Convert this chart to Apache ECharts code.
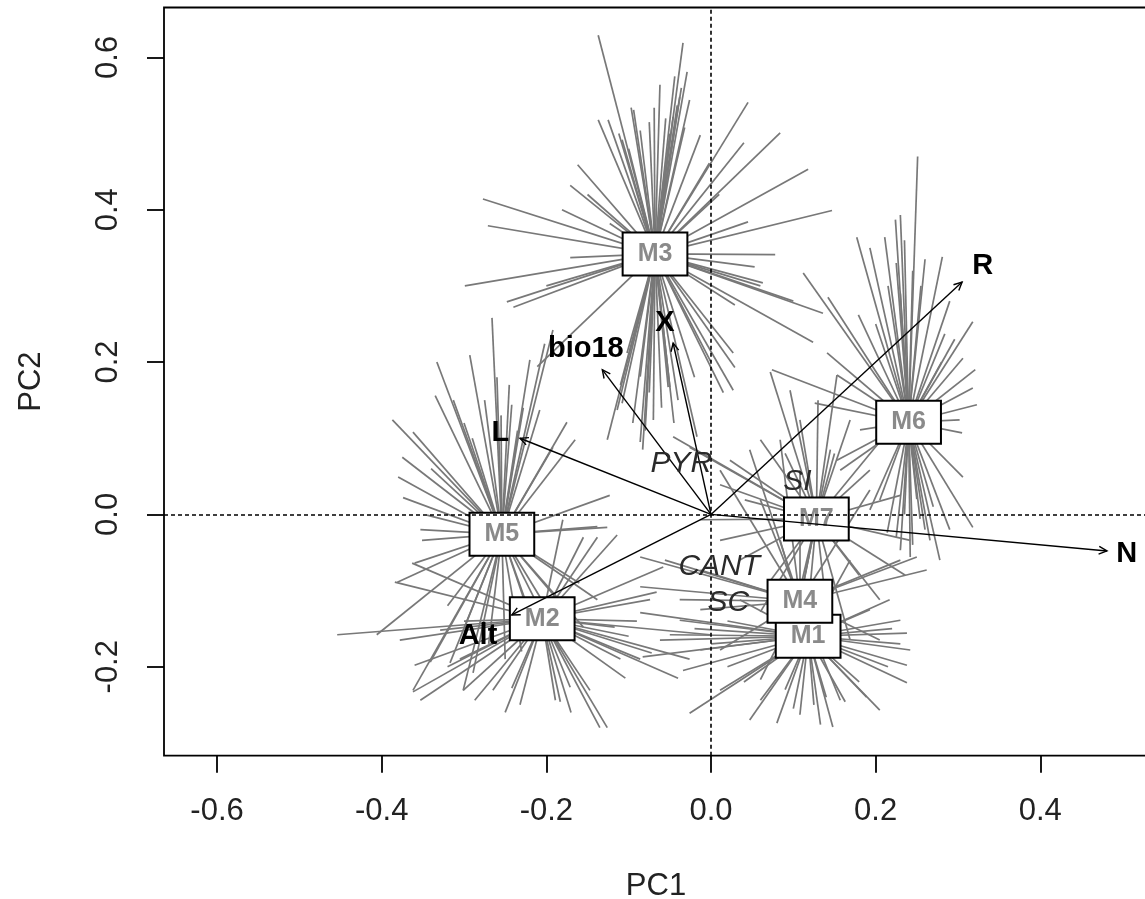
<!DOCTYPE html>
<html>
<head>
<meta charset="utf-8">
<script src="https://cdn.jsdelivr.net/npm/echarts@6/dist/echarts.min.js"></script>
<style>
html, body { margin: 0; padding: 0; background: #fff; }
#chart { width: 1145px; height: 899px; }
</style>
</head>
<body>
<div id="chart"></div>
<script>
// PCA ordination: group centroids with spider lines to each sample,
// plus variable loading arrows and region labels.
const groupNames = ['M1', 'M2', 'M3', 'M4', 'M5', 'M6', 'M7'];
const groupCentres = [
  [0.118, -0.160], [-0.205, -0.137], [-0.068, 0.342], [0.108, -0.114],
  [-0.254, -0.026], [0.240, 0.121], [0.128, -0.006]
];

const m1Points = [
  [-0.086, -0.129], [-0.050, -0.158], [-0.034, -0.205], [-0.026, -0.261], [0.047, -0.270],
  [0.080, -0.274], [0.148, -0.279], [0.163, -0.246], [0.189, -0.240], [0.238, -0.221],
  [0.238, -0.198], [0.238, -0.156], [0.230, -0.139], [-0.083, -0.187], [-0.062, -0.165],
  [0.011, -0.231], [0.108, -0.263], [0.133, -0.276], [0.205, -0.257], [0.242, -0.178],
  [0.217, -0.112], [0.193, -0.125], [-0.038, -0.139], [-0.013, -0.178], [0.060, -0.244],
  [0.169, -0.060], [0.084, -0.034], [0.035, -0.112], [0.100, -0.255], [0.125, -0.250],
  [0.020, -0.200], [0.215, -0.200], [-0.020, -0.150], [0.000, -0.170], [0.020, -0.140],
  [0.230, -0.170], [0.220, -0.150], [0.040, -0.220], [0.180, -0.220], [0.140, -0.240],
  [0.090, -0.230]
];
const m2Points = [
  [-0.454, -0.158], [-0.362, -0.233], [-0.360, -0.198], [-0.384, -0.089], [-0.301, -0.231],
  [-0.287, -0.244], [-0.242, -0.228], [-0.183, -0.246], [-0.171, -0.227], [-0.126, -0.280],
  [-0.104, -0.215], [-0.040, -0.215], [-0.072, -0.182], [-0.117, -0.148], [-0.066, -0.102],
  [-0.058, -0.069], [-0.001, -0.158], [-0.114, -0.027], [-0.138, -0.030], [-0.155, -0.030],
  [-0.180, -0.007], [-0.363, -0.064], [-0.378, -0.165], [-0.329, -0.152], [-0.265, -0.231],
  [-0.232, -0.250], [-0.189, -0.244], [-0.135, -0.280], [-0.074, -0.112], [-0.086, -0.190],
  [-0.147, -0.231], [-0.305, -0.190], [-0.353, -0.244], [-0.026, -0.190], [-0.300, -0.140],
  [-0.100, -0.160], [-0.110, -0.190], [-0.170, -0.260], [-0.250, -0.260], [-0.090, -0.140],
  [-0.320, -0.200]
];
const m3Points = [
  [-0.137, 0.629], [-0.034, 0.619], [-0.029, 0.581], [-0.038, 0.548], [-0.041, 0.537],
  [-0.097, 0.534], [-0.094, 0.531], [-0.069, 0.534], [-0.137, 0.518], [-0.125, 0.518],
  [-0.046, 0.522], [-0.032, 0.508], [0.045, 0.541], [0.084, 0.501], [0.040, 0.488],
  [-0.002, 0.461], [-0.162, 0.459], [0.118, 0.453], [-0.171, 0.432], [0.147, 0.399],
  [-0.277, 0.414], [-0.181, 0.400], [0.045, 0.384], [-0.123, 0.382], [-0.271, 0.379],
  [0.078, 0.341], [-0.171, 0.337], [0.053, 0.325], [-0.299, 0.300], [0.063, 0.304],
  [-0.248, 0.279], [-0.240, 0.272], [0.029, 0.275], [0.136, 0.264], [0.124, 0.226],
  [0.029, 0.193], [0.027, 0.163], [-0.126, 0.098], [-0.114, 0.137], [-0.083, 0.085],
  [-0.070, 0.124], [-0.052, 0.167], [-0.086, 0.181], [-0.086, 0.095], [-0.108, 0.146],
  [-0.017, 0.102], [-0.050, 0.167], [-0.102, 0.212], [-0.211, 0.194], [-0.062, 0.564],
  [-0.026, 0.544], [-0.086, 0.504], [-0.013, 0.498], [-0.108, 0.492], [0.027, 0.212],
  [0.015, 0.160], [-0.044, 0.575], [-0.036, 0.560], [-0.112, 0.500], [0.060, 0.300],
  [-0.080, 0.110], [-0.060, 0.140], [-0.045, 0.120], [-0.095, 0.120], [-0.075, 0.160],
  [-0.040, 0.150], [-0.020, 0.180], [0.000, 0.200], [-0.110, 0.170], [-0.055, 0.520],
  [-0.075, 0.515], [-0.050, 0.500], [-0.100, 0.480], [0.010, 0.420], [-0.150, 0.420],
  [0.100, 0.280], [-0.200, 0.300]
];
const m4Points = [
  [-0.086, -0.095], [-0.086, -0.056], [-0.056, -0.060], [-0.013, -0.073], [-0.038, -0.112],
  [0.011, 0.058], [0.047, 0.085], [0.084, 0.098], [0.108, 0.058], [0.145, 0.085],
  [0.193, 0.032], [0.230, -0.060], [0.250, -0.056], [0.262, -0.073], [0.205, -0.165],
  [0.060, -0.217], [0.011, -0.178], [0.157, -0.244], [-0.013, -0.125], [0.060, 0.019]
];
const m5Points = [
  [-0.266, 0.258], [-0.333, 0.200], [-0.335, 0.156], [-0.387, 0.124], [-0.313, 0.150],
  [-0.242, 0.144], [-0.228, 0.140], [-0.175, 0.121], [-0.192, 0.088], [-0.362, 0.108],
  [-0.375, 0.075], [-0.380, 0.049], [-0.374, 0.022], [-0.345, -0.001], [-0.353, -0.020],
  [-0.351, -0.034], [-0.360, -0.064], [-0.381, -0.089], [-0.123, 0.025], [-0.126, -0.017],
  [-0.317, -0.195], [-0.362, -0.231], [-0.341, -0.194], [-0.301, -0.231], [-0.289, -0.208],
  [-0.192, 0.242], [-0.202, 0.224], [-0.220, 0.203], [-0.406, -0.158], [-0.138, -0.112],
  [-0.155, -0.148], [-0.183, -0.178], [-0.293, 0.209], [-0.208, 0.137], [-0.165, 0.098],
  [-0.138, -0.016], [-0.260, 0.180], [-0.245, 0.170], [-0.300, 0.120], [-0.215, -0.150],
  [-0.230, -0.180], [-0.210, -0.160], [-0.250, -0.190], [-0.270, -0.170], [-0.190, -0.140],
  [-0.180, -0.120], [-0.160, -0.090], [-0.275, 0.150], [-0.255, 0.130], [-0.235, 0.110],
  [-0.290, 0.100], [-0.320, -0.120], [-0.300, -0.150], [-0.340, 0.060]
];
const m6Points = [
  [0.251, 0.470], [0.230, 0.393], [0.177, 0.364], [0.211, 0.364], [0.281, 0.338],
  [0.112, 0.317], [0.142, 0.285], [0.179, 0.262], [0.318, 0.253], [0.284, 0.237],
  [0.306, 0.205], [0.141, 0.212], [0.074, 0.190], [0.153, 0.183], [0.126, 0.146],
  [0.318, 0.166], [0.323, 0.144], [0.302, 0.124], [0.305, 0.107], [0.181, 0.111],
  [0.153, 0.071], [0.306, 0.049], [0.318, -0.017], [0.290, -0.020], [0.266, -0.034],
  [0.230, -0.047], [0.214, -0.024], [0.193, 0.006], [0.242, -0.056], [0.224, 0.387],
  [0.235, 0.360], [0.260, 0.335], [0.193, 0.350], [0.290, 0.280], [0.296, 0.230],
  [0.321, 0.190], [0.205, 0.019], [0.254, -0.006], [0.278, -0.060], [0.157, 0.058],
  [0.225, 0.330], [0.245, 0.320], [0.230, 0.290], [0.255, 0.300], [0.215, 0.300],
  [0.250, 0.020], [0.260, -0.020], [0.235, 0.000], [0.270, 0.010], [0.225, -0.030],
  [0.245, -0.040], [0.280, 0.200], [0.200, 0.250]
];
const m7Points = [
  [0.072, 0.187], [0.153, 0.183], [0.096, 0.163], [0.023, 0.071], [0.011, 0.039],
  [-0.046, 0.102], [-0.026, 0.088], [0.130, 0.150], [0.169, 0.124], [0.207, 0.098],
  [0.230, 0.025], [0.242, -0.034], [0.236, -0.080], [0.205, -0.112], [0.035, -0.060],
  [0.011, -0.034], [0.060, -0.128], [-0.013, -0.007], [0.169, -0.165], [0.096, -0.178],
  [0.060, 0.098], [0.108, 0.124], [0.041, 0.019], [0.193, 0.058], [0.120, -0.100],
  [0.140, -0.120], [0.110, -0.090], [0.150, 0.080], [0.090, 0.080], [0.180, -0.080],
  [0.070, -0.090]
];
const groupPoints = [m1Points, m2Points, m3Points, m4Points, m5Points, m6Points, m7Points];

// Variable loadings (arrow tips) and their label anchors
const varNames = ['L', 'bio18', 'X', 'R', 'N', 'Alt'];
const varArrows = [
  [-0.232, 0.100], [-0.132, 0.190], [-0.046, 0.225], [0.305, 0.305], [0.481, -0.048], [-0.242, -0.132]
];
const varLabelPos = [
  [-0.256, 0.107], [-0.152, 0.217], [-0.056, 0.251], [0.330, 0.326], [0.505, -0.052], [-0.283, -0.159]
];

// Region labels
const regionNames = ['PYR', 'SI', 'CANT', 'SC'];
const regionPos = [[-0.036, 0.066], [0.105, 0.043], [0.010, -0.069], [0.021, -0.116]];

const xTicks = [-0.6, -0.4, -0.2, 0.0, 0.2, 0.4];
const yTicks = [-0.2, 0.0, 0.2, 0.4, 0.6];

const FONT = '"Liberation Sans", Arial, Helvetica, sans-serif';

const spiderData = [];
groupPoints.forEach((pts, gi) => {
  pts.forEach(p => spiderData.push({ coords: [groupCentres[gi], p] }));
});

const chart = echarts.init(document.getElementById('chart'), null, { renderer: 'canvas' });

const option = {
  backgroundColor: '#fff',
  animation: false,
  grid: {
    left: 164, top: 7.5, width: 984, height: 748.2,
    outerBoundsMode: 'none', containLabel: false,
    show: true, borderColor: '#000', borderWidth: 1.8, backgroundColor: 'transparent'
  },
  xAxis: {
    type: 'value', min: -0.6644, max: 0.5308,
    name: 'PC1', nameLocation: 'middle', nameGap: 115,
    nameTextStyle: { fontFamily: FONT, fontSize: 31, color: '#222' },
    axisLine: { show: false, onZero: false },
    splitLine: { show: false },
    axisTick: { show: true, inside: false, length: 17, customValues: xTicks,
      lineStyle: { color: '#000', width: 1.8 } },
    axisLabel: { customValues: xTicks, margin: 40, fontFamily: FONT, fontSize: 31, color: '#222',
      formatter: v => v.toFixed(1) }
  },
  yAxis: {
    type: 'value', min: -0.3168, max: 0.6655,
    name: 'PC2', nameLocation: 'middle', nameGap: 117, nameRotate: 90,
    nameTextStyle: { fontFamily: FONT, fontSize: 31, color: '#222' },
    axisLine: { show: false, onZero: false },
    splitLine: { show: false },
    axisTick: { show: true, inside: false, length: 17, customValues: yTicks,
      lineStyle: { color: '#000', width: 1.8 } },
    axisLabel: { customValues: yTicks, margin: 40, rotate: 90, fontFamily: FONT, fontSize: 31, color: '#222',
      formatter: v => v.toFixed(1) }
  },
  series: [
    {
      type: 'lines', coordinateSystem: 'cartesian2d', z: 2, silent: true,
      lineStyle: { color: '#787878', width: 1.7, opacity: 1 },
      data: spiderData
    },
    {
      type: 'line', data: [], z: 3, silent: true,
      markLine: {
        silent: true, symbol: 'none', label: { show: false },
        lineStyle: { color: '#000', width: 1.6, type: [4, 3] },
        data: [{ xAxis: 0 }, { yAxis: 0 }]
      }
    },
    {
      type: 'scatter', z: 4, symbolSize: 0, silent: true,
      itemStyle: { opacity: 1 },
      data: groupNames.map((n, i) => ({ name: n, value: groupCentres[i] })),
      label: {
        show: true, position: 'inside', formatter: '{b}',
        fontFamily: FONT, fontSize: 25, fontWeight: 'bold', color: '#8a8a8a',
        backgroundColor: '#fff', borderColor: '#000', borderWidth: 2,
        padding: [8, 14, 8, 14]
      }
    },
    {
      type: 'custom', z: 5, silent: true,
      data: varArrows,
      renderItem: (params, api) => {
        const o = api.coord([0, 0]);
        const t = api.coord([api.value(0), api.value(1)]);
        const ang = Math.atan2(t[1] - o[1], t[0] - o[0]);
        const len = 9, spread = Math.PI / 7;
        const p1 = [t[0] - len * Math.cos(ang - spread), t[1] - len * Math.sin(ang - spread)];
        const p2 = [t[0] - len * Math.cos(ang + spread), t[1] - len * Math.sin(ang + spread)];
        return {
          type: 'group',
          children: [
            { type: 'line', shape: { x1: o[0], y1: o[1], x2: t[0], y2: t[1] },
              style: { stroke: '#000', lineWidth: 1.4 } },
            { type: 'polyline', shape: { points: [p1, t, p2] },
              style: { stroke: '#000', fill: null, lineWidth: 1.4 } }
          ]
        };
      }
    },
    {
      type: 'scatter', z: 6, symbolSize: 0, silent: true,
      itemStyle: { opacity: 1 },
      data: varNames.map((n, i) => ({ name: n, value: varLabelPos[i] })),
      label: {
        show: true, position: 'inside', formatter: '{b}',
        fontFamily: FONT, fontSize: 29, fontWeight: 'bold', color: '#000'
      }
    },
    {
      type: 'scatter', z: 6, symbolSize: 0, silent: true,
      itemStyle: { opacity: 1 },
      data: regionNames.map((n, i) => ({ name: n, value: regionPos[i] })),
      label: {
        show: true, position: 'inside', formatter: '{b}',
        fontFamily: FONT, fontSize: 30, fontStyle: 'italic', color: '#2a2a2a'
      }
    }
  ]
};

chart.setOption(option);
</script>
</body>
</html>
